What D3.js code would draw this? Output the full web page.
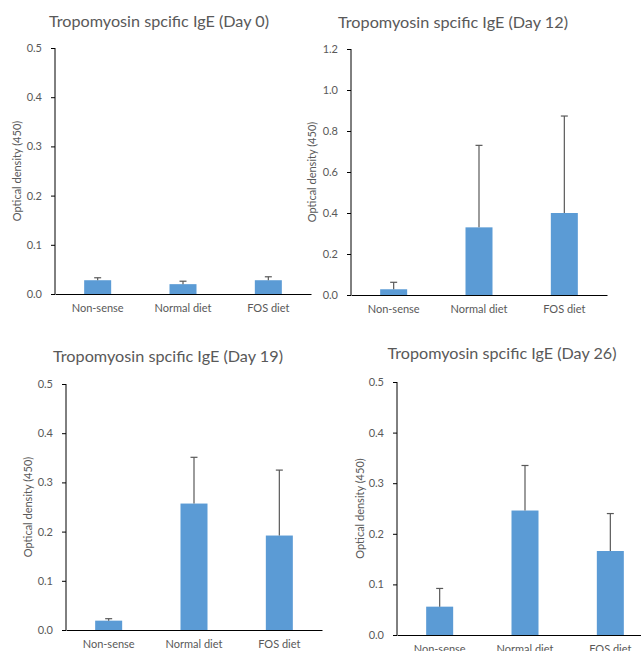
<!DOCTYPE html>
<html>
<head>
<meta charset="utf-8">
<script src="https://cdn.jsdelivr.net/npm/d3@7"></script>
<style>
    html, body { margin: 0; padding: 0; background: #fff; }
    svg { display: block; }
    text { font-family: Lato, "Open Sans", sans-serif; fill: #595959; }
</style>
</head>
<body>
<div id="chart"></div>
<script>
'use strict';

// Values (mean and upper error bar length).
var categories = ['Non-sense', 'Normal diet', 'FOS diet'];

var day0Means   = [0.028, 0.020, 0.028];
var day0Errors  = [0.005, 0.006, 0.007];
var day12Means  = [0.028, 0.330, 0.400];
var day12Errors = [0.034, 0.400, 0.473];
var day19Means  = [0.019, 0.257, 0.192];
var day19Errors = [0.004, 0.094, 0.133];
var day26Means  = [0.056, 0.246, 0.166];
var day26Errors = [0.036, 0.089, 0.074];

var day0Ticks  = [0, 0.1, 0.2, 0.3, 0.4, 0.5];
var day12Ticks = [0, 0.2, 0.4, 0.6, 0.8, 1.0, 1.2];

var svg = d3.select('#chart').append('svg')
            .attr('width', 641)
            .attr('height', 651);

function drawPanel(opts) {
    var g = svg.append('g'),
        x = d3.scaleBand()
              .domain(categories)
              .range([opts.left, opts.left + 256]),
        y = d3.scaleLinear()
              .domain([0, opts.max])
              .range([opts.bottom, opts.top]),
        barWidth = 27,
        rows = categories.map(function (c, i) {
            return { name: c, mean: opts.means[i], err: opts.errors[i] };
        });

    // title, squeezed to the narrow width of the original typeface
    g.append('text')
     .attr('x', opts.titleX)
     .attr('y', opts.titleY)
     .attr('text-anchor', 'middle')
     .attr('textLength', opts.titleWidth)
     .attr('lengthAdjust', 'spacingAndGlyphs')
     .style('font-size', '16px')
     .text(opts.title);

    // y axis label
    g.append('text')
     .attr('transform', 'translate(' + opts.labelX + ',' + ((opts.top + opts.bottom) / 2) + ') rotate(-90)')
     .attr('text-anchor', 'middle')
     .style('font-size', '11px')
     .text('Optical density (450)');

    // bars
    g.selectAll('rect.bar').data(rows).enter()
     .append('rect')
     .attr('class', 'bar')
     .attr('x', function (d) { return x(d.name) + x.bandwidth() / 2 - barWidth / 2; })
     .attr('y', function (d) { return y(d.mean); })
     .attr('width', barWidth)
     .attr('height', function (d) { return y(0) - y(d.mean); })
     .attr('fill', '#5b9bd5');

    // error bars (upper only)
    var err = g.selectAll('g.err').data(rows).enter()
               .append('g')
               .attr('class', 'err')
               .attr('stroke', '#595959')
               .attr('stroke-width', 1.2);

    err.append('line')
       .attr('x1', function (d) { return x(d.name) + x.bandwidth() / 2; })
       .attr('x2', function (d) { return x(d.name) + x.bandwidth() / 2; })
       .attr('y1', function (d) { return y(d.mean); })
       .attr('y2', function (d) { return y(d.mean + d.err); });

    err.append('line')
       .attr('x1', function (d) { return x(d.name) + x.bandwidth() / 2 - 3.5; })
       .attr('x2', function (d) { return x(d.name) + x.bandwidth() / 2 + 3.5; })
       .attr('y1', function (d) { return y(d.mean + d.err); })
       .attr('y2', function (d) { return y(d.mean + d.err); });

    // y axis
    var yAxis = g.append('g')
                 .attr('transform', 'translate(' + opts.left + ',0)')
                 .call(d3.axisLeft(y)
                         .tickValues(opts.ticks)
                         .tickSize(4)
                         .tickPadding(9)
                         .tickFormat(d3.format('.1f')));

    yAxis.select('.domain').attr('d', 'M0,' + opts.top + 'V' + opts.bottom).attr('stroke', '#000');
    yAxis.selectAll('.tick line').attr('stroke', '#000');
    yAxis.selectAll('.tick text')
         .style('font-size', '11px')
         .attr('fill', '#595959');

    // x axis
    var xAxis = g.append('g')
                 .attr('transform', 'translate(0,' + opts.bottom + ')')
                 .call(d3.axisBottom(x).tickSize(0).tickPadding(10));

    xAxis.select('.domain').attr('stroke', '#000');
    xAxis.selectAll('.tick text')
         .style('font-size', '11px')
         .attr('fill', '#595959');
}

drawPanel({
    title: 'Tropomyosin spcific IgE (Day 0)', titleX: 159, titleY: 27, titleWidth: 220,
    means: day0Means, errors: day0Errors, ticks: day0Ticks, max: 0.5,
    left: 55, top: 48, bottom: 294, labelX: 21
});

drawPanel({
    title: 'Tropomyosin spcific IgE (Day 12)', titleX: 453, titleY: 28, titleWidth: 230,
    means: day12Means, errors: day12Errors, ticks: day12Ticks, max: 1.2,
    left: 351, top: 49, bottom: 295, labelX: 316
});

drawPanel({
    title: 'Tropomyosin spcific IgE (Day 19)', titleX: 168, titleY: 362, titleWidth: 230,
    means: day19Means, errors: day19Errors, ticks: day0Ticks, max: 0.5,
    left: 66, top: 384, bottom: 630, labelX: 32
});

drawPanel({
    title: 'Tropomyosin spcific IgE (Day 26)', titleX: 502, titleY: 359, titleWidth: 229,
    means: day26Means, errors: day26Errors, ticks: day0Ticks, max: 0.5,
    left: 397, top: 382, bottom: 635, labelX: 364
});
</script>
</body>
</html>
